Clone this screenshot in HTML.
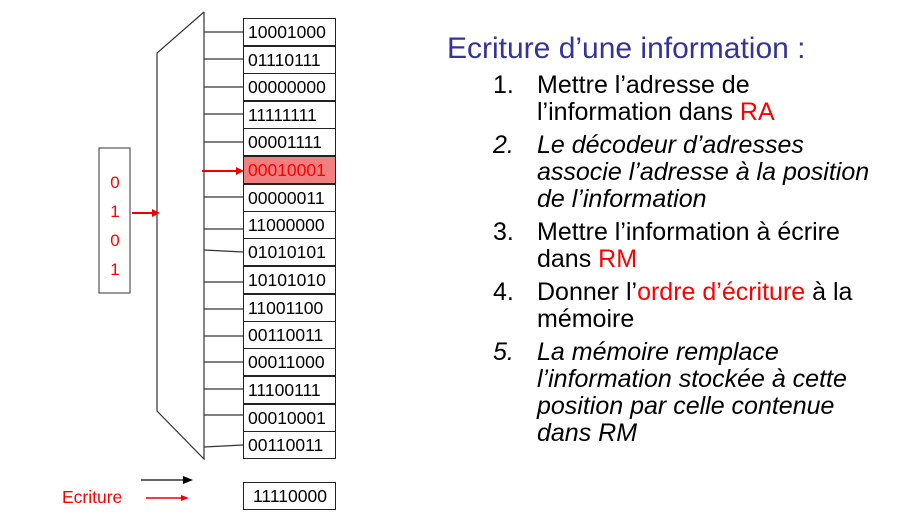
<!DOCTYPE html>
<html><head><meta charset="utf-8"><style>
body{margin:0;width:908px;height:526px;background:#fff;position:relative;overflow:hidden;font-family:"Liberation Sans",Arial,sans-serif}
.r{position:absolute;left:243px;border:1px solid #222;font-size:17.5px;line-height:27px;padding-left:4px;box-sizing:border-box;width:93px;height:28px}
.t{position:absolute;font-size:25px;line-height:27px;color:#000;white-space:nowrap}
.n{position:absolute;left:493px;font-size:25px;line-height:27px}
.red{color:#f00}
i{font-style:italic}
</style></head><body>
<svg width="908" height="526" style="position:absolute;left:0;top:0">
<polyline points="204,12 157,53 157,411 204,459 204,12" fill="none" stroke="#333" stroke-width="1.2"/>
<g stroke="#333" stroke-width="1.2">
<line x1="204" y1="32" x2="243" y2="32"/><line x1="204" y1="59" x2="243" y2="59"/>
<line x1="204" y1="87" x2="243" y2="87"/><line x1="204" y1="114" x2="243" y2="114"/>
<line x1="204" y1="142" x2="243" y2="142"/>
<line x1="204" y1="197" x2="243" y2="197"/><line x1="204" y1="229" x2="243" y2="229"/>
<line x1="204" y1="250" x2="243" y2="252"/><line x1="204" y1="282" x2="243" y2="282"/>
<line x1="204" y1="309" x2="243" y2="309"/><line x1="204" y1="336" x2="243" y2="336"/>
<line x1="204" y1="362" x2="243" y2="362"/><line x1="204" y1="389" x2="243" y2="389"/>
<line x1="204" y1="415" x2="243" y2="415"/><line x1="204" y1="447" x2="243" y2="445"/>
</g>
<line x1="202" y1="171" x2="238" y2="171" stroke="#e00" stroke-width="2"/>
<polygon points="244,171 236,167 236,175" fill="#e00"/>
<line x1="132" y1="213" x2="154" y2="213" stroke="#e00" stroke-width="2"/>
<polygon points="160,213 152,209 152,217" fill="#e00"/>
<line x1="141" y1="480" x2="184" y2="480" stroke="#333" stroke-width="1.5"/>
<polygon points="193,480 183,476 183,484" fill="#000"/>
<line x1="146" y1="498" x2="182" y2="498" stroke="#e00" stroke-width="1.5"/>
<polygon points="189,498 181,495 181,501" fill="#e00"/>
<rect x="99" y="148" width="31" height="145" fill="none" stroke="#555" stroke-width="1.2"/>
</svg>
<div style="position:absolute;left:99px;top:168px;width:32px;text-align:center;color:#f00;font-size:17px;line-height:29px">0<br>1<br>0<br>1</div>
<div class="r" style="top:18px">10001000</div>
<div class="r" style="top:46px">01110111</div>
<div class="r" style="top:73px">00000000</div>
<div class="r" style="top:101px">11111111</div>
<div class="r" style="top:128px">00001111</div>
<div class="r" style="top:156px;background:#f08080;color:#f00">00010001</div>
<div class="r" style="top:184px">00000011</div>
<div class="r" style="top:211px">11000000</div>
<div class="r" style="top:238px">01010101</div>
<div class="r" style="top:266px">10101010</div>
<div class="r" style="top:294px">11001100</div>
<div class="r" style="top:321px">00110011</div>
<div class="r" style="top:348px">00011000</div>
<div class="r" style="top:376px">11100111</div>
<div class="r" style="top:404px">00010001</div>
<div class="r" style="top:431px">00110011</div>
<div class="r" style="top:482px;padding-left:9px">11110000</div>
<div style="position:absolute;left:62px;top:487px;color:#f00;font-size:17.5px">Ecriture</div>
<div class="t" style="left:447px;top:33px;font-size:30px;line-height:32px;color:#333399">Ecriture d’une information :</div>
<div class="n" style="top:72px">1.</div>
<div class="t" style="left:537px;top:72px">Mettre l’adresse de<br>l’information dans <span class="red">RA</span></div>
<div class="n" style="top:132px"><i>2.</i></div>
<div class="t" style="left:537px;top:132px"><i>Le décodeur d’adresses<br>associe l’adresse à la position<br>de l’information</i></div>
<div class="n" style="top:219px">3.</div>
<div class="t" style="left:537px;top:219px">Mettre l’information à écrire<br>dans <span class="red">RM</span></div>
<div class="n" style="top:279px">4.</div>
<div class="t" style="left:537px;top:279px">Donner l’<span class="red">ordre d’écriture</span> à la<br>mémoire</div>
<div class="n" style="top:339px"><i>5.</i></div>
<div class="t" style="left:537px;top:339px"><i>La mémoire remplace<br>l’information stockée à cette<br>position par celle contenue<br>dans RM</i></div>
</body></html>
